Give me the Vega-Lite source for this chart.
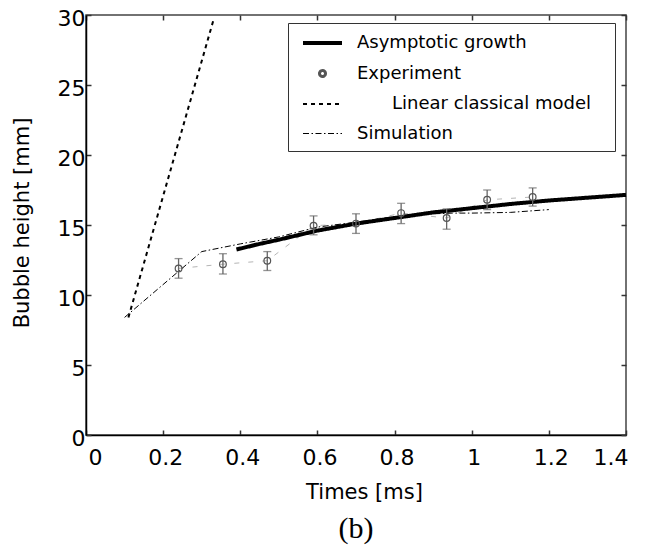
{
  "$schema": "https://vega.github.io/schema/vega-lite/v6.json",
  "width": 540,
  "height": 420,
  "autosize": {"type": "none"},
  "padding": {"left": 86, "top": 15, "right": 20, "bottom": 118},
  "background": "white",
  "config": {
    "font": "DejaVu Sans",
    "view": {"stroke": "#444", "strokeWidth": 1.5},
    "axis": {"grid": false, "domainColor": "black", "domainWidth": 1.5, "tickColor": "#333", "tickWidth": 1.5, "labelColor": "black", "labelFont": "DejaVu Sans", "labelFontSize": 22, "titleFont": "DejaVu Sans", "titleFontSize": 21, "titleFontWeight": "normal", "titleColor": "black"}
  },
  "title": {"text": "(b)", "orient": "bottom", "font": "Liberation Serif", "fontSize": 30, "fontWeight": "normal", "color": "black", "frame": "group", "anchor": "middle", "offset": 12},
  "datasets": {
    "curves": [
      {"series": "Asymptotic growth", "t": 0.39, "h": 13.25},
      {"series": "Asymptotic growth", "t": 0.45, "h": 13.65},
      {"series": "Asymptotic growth", "t": 0.5, "h": 13.95},
      {"series": "Asymptotic growth", "t": 0.6, "h": 14.6},
      {"series": "Asymptotic growth", "t": 0.7, "h": 15.1},
      {"series": "Asymptotic growth", "t": 0.8, "h": 15.5},
      {"series": "Asymptotic growth", "t": 0.9, "h": 15.9},
      {"series": "Asymptotic growth", "t": 1.0, "h": 16.2},
      {"series": "Asymptotic growth", "t": 1.1, "h": 16.5},
      {"series": "Asymptotic growth", "t": 1.2, "h": 16.75},
      {"series": "Asymptotic growth", "t": 1.3, "h": 16.95},
      {"series": "Asymptotic growth", "t": 1.4, "h": 17.15},
      {"series": "Linear classical model", "t": 0.11, "h": 8.4},
      {"series": "Linear classical model", "t": 0.33, "h": 29.6},
      {"series": "Simulation", "t": 0.1, "h": 8.4},
      {"series": "Simulation", "t": 0.3, "h": 13.1},
      {"series": "Simulation", "t": 0.4, "h": 13.65},
      {"series": "Simulation", "t": 0.5, "h": 14.15},
      {"series": "Simulation", "t": 0.6, "h": 14.85},
      {"series": "Simulation", "t": 0.7, "h": 15.2},
      {"series": "Simulation", "t": 0.8, "h": 15.6},
      {"series": "Simulation", "t": 0.9, "h": 15.8},
      {"series": "Simulation", "t": 0.95, "h": 15.85},
      {"series": "Simulation", "t": 1.0, "h": 15.85},
      {"series": "Simulation", "t": 1.1, "h": 15.9},
      {"series": "Simulation", "t": 1.2, "h": 16.1}
    ],
    "exp": [
      {"t": 0.24, "h": 11.9, "lo": 11.2, "hi": 12.6},
      {"t": 0.355, "h": 12.2, "lo": 11.5, "hi": 12.95},
      {"t": 0.47, "h": 12.45, "lo": 11.75, "hi": 13.1},
      {"t": 0.59, "h": 14.95, "lo": 14.3, "hi": 15.65},
      {"t": 0.7, "h": 15.1, "lo": 14.4, "hi": 15.8},
      {"t": 0.817, "h": 15.85, "lo": 15.1, "hi": 16.55},
      {"t": 0.935, "h": 15.5, "lo": 14.7, "hi": 16.15},
      {"t": 1.04, "h": 16.8, "lo": 16.1, "hi": 17.5},
      {"t": 1.158, "h": 17.0, "lo": 16.35, "hi": 17.65}
    ]
  },
  "layer": [
    {
      "data": {"name": "exp"},
      "mark": {"type": "line", "color": "#b5b5b5", "strokeWidth": 1, "strokeDash": [5, 9]},
      "encoding": {
        "x": {"field": "t", "type": "quantitative", "scale": {"domain": [0, 1.4], "nice": false},
          "axis": {"orient": "top", "labels": false, "title": null, "values": [0, 0.2, 0.4, 0.6, 0.8, 1, 1.2, 1.4], "tickSize": -5, "domain": false}},
        "y": {"field": "h", "type": "quantitative", "scale": {"domain": [0, 30], "nice": false},
          "axis": {"orient": "right", "labels": false, "title": null, "values": [0, 5, 10, 15, 20, 25, 30], "tickSize": -5, "domain": false}}
      }
    },
    {
      "data": {"name": "curves"},
      "mark": {"type": "line", "color": "black", "strokeCap": "butt"},
      "encoding": {
        "x": {"field": "t", "type": "quantitative", "scale": {"domain": [0, 1.4], "nice": false},
          "axis": {"orient": "bottom", "values": [0, 0.2, 0.4, 0.6, 0.8, 1, 1.2, 1.4], "format": "~g", "tickSize": -5, "labelPadding": 17, "labelOffset": 2, "title": "Times [ms]", "titleX": 278, "titleY": 63, "titleAlign": "center", "titleBaseline": "alphabetic"}},
        "y": {"field": "h", "type": "quantitative", "scale": {"domain": [0, 30], "nice": false},
          "axis": {"orient": "left", "values": [0, 5, 10, 15, 20, 25, 30], "tickSize": -5, "labelPadding": 6, "labelOffset": 3, "title": "Bubble height [mm]", "titleX": -57.5, "titleY": 207.5, "titleAlign": "center", "titleBaseline": "alphabetic", "titleAngle": -90}},
        "strokeDash": {"field": "series", "type": "nominal",
          "scale": {"domain": ["Asymptotic growth", "Experiment", "Linear classical model", "Simulation"], "range": [[1, 0], [1, 0], [4, 4], [6, 2.5, 1.5, 2.5]]},
          "legend": {
            "orient": "none", "legendX": 202, "legendY": 8, "title": null,
            "padding": 8, "strokeColor": "#333", "fillColor": "white",
            "symbolType": "stroke", "symbolSize": 100, "symbolStrokeColor": "black",
            "labelFont": "DejaVu Sans", "labelFontSize": 18, "labelColor": "black", "labelOffset": 37, "labelLimit": 400, "rowPadding": 10,
            "encode": {
              "symbols": {"update": {
                "x": {"value": 26.5},
                "shape": {"signal": "datum.value == 'Experiment' ? 'circle' : 'M-2,0H2M28.3,0'"},
                "size": {"signal": "datum.value == 'Experiment' ? 36 : 380"},
                "stroke": {"signal": "datum.value == 'Experiment' ? '#555' : 'black'"},
                "fill": {"value": "transparent"}
              }},
              "labels": {"update": {
                "dx": {"signal": "datum.value == 'Linear classical model' ? 35 : 0"}
              }}
            }
          }},
        "strokeWidth": {"field": "series", "type": "nominal",
          "scale": {"domain": ["Asymptotic growth", "Experiment", "Linear classical model", "Simulation"], "range": [4, 1, 4, 1.4]}}
      }
    },
    {
      "data": {"name": "exp"},
      "mark": {"type": "rule", "color": "#666", "strokeWidth": 1.3},
      "encoding": {
        "x": {"field": "t", "type": "quantitative", "scale": {"domain": [0, 1.4], "nice": false}, "axis": null},
        "y": {"field": "lo", "type": "quantitative", "scale": {"domain": [0, 30], "nice": false}, "axis": null},
        "y2": {"field": "hi"}
      }
    },
    {
      "data": {"name": "exp"},
      "mark": {"type": "tick", "orient": "horizontal", "color": "#666", "size": 8, "thickness": 1.3},
      "encoding": {
        "x": {"field": "t", "type": "quantitative", "scale": {"domain": [0, 1.4], "nice": false}, "axis": null},
        "y": {"field": "lo", "type": "quantitative", "scale": {"domain": [0, 30], "nice": false}, "axis": null}
      }
    },
    {
      "data": {"name": "exp"},
      "mark": {"type": "tick", "orient": "horizontal", "color": "#666", "size": 8, "thickness": 1.3},
      "encoding": {
        "x": {"field": "t", "type": "quantitative", "scale": {"domain": [0, 1.4], "nice": false}, "axis": null},
        "y": {"field": "hi", "type": "quantitative", "scale": {"domain": [0, 30], "nice": false}, "axis": null}
      }
    },
    {
      "data": {"name": "exp"},
      "mark": {"type": "point", "shape": "circle", "filled": false, "stroke": "#555", "strokeWidth": 1.2, "size": 45, "opacity": 1},
      "encoding": {
        "x": {"field": "t", "type": "quantitative", "scale": {"domain": [0, 1.4], "nice": false}, "axis": null},
        "y": {"field": "h", "type": "quantitative", "scale": {"domain": [0, 30], "nice": false}, "axis": null}
      }
    }
  ],
  "resolve": {"axis": {"x": "independent", "y": "independent"}}
}
